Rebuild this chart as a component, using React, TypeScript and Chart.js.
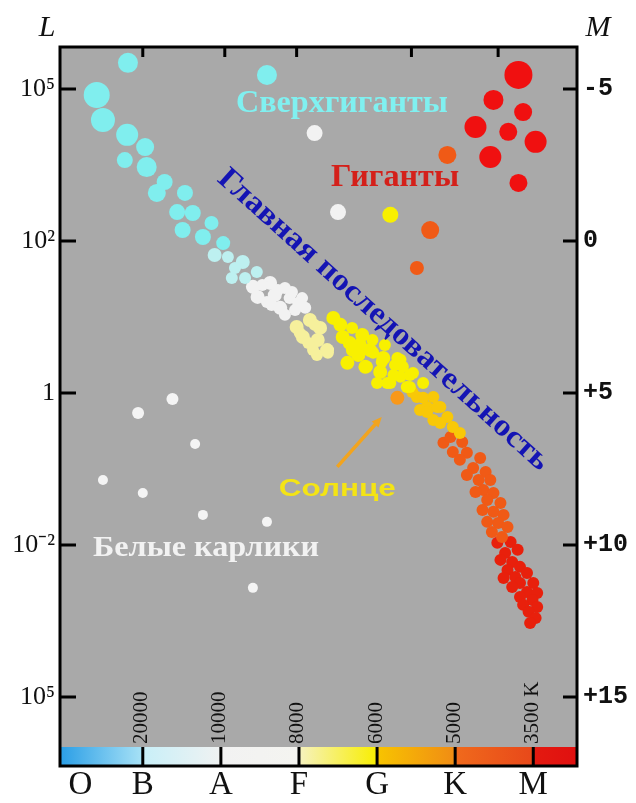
import React, { useEffect, useRef } from "react";
import { Chart, registerables } from "chart.js";

Chart.register(...registerables);

// x: spectral sub-class index (B0 = 10, A0 = 20, F0 = 30, G0 = 40, K0 = 50, M0 = 60)
// y: absolute magnitude M (left axis shows luminosity L)
const SPECTRAL_TICKS = [2, 10, 20, 30, 40, 50, 60];
const SPECTRAL_LABELS = ["O", "B", "A", "F", "G", "K", "M"];
const TEMP_TICKS = [10, 20, 30, 40, 50, 60];
const TEMP_LABELS = ["20000", "10000", "8000", "6000", "5000", "3500 K"];
const TOP_TICKS = [10, 20.5, 29.7, 44.4, 55.5];
const MAG_TICKS = [-5, 0, 5, 10, 15];
const LUM_LABELS = ["10⁵", "10²", "1", "10⁻²", "10⁵"];
const MAG_LABELS = ["-5", "0", "+5", "+10", "+15"];
const X_MIN = -0.6;
const X_MAX = 65.6;
const M_MIN = -6.38;
const M_MAX = 17.27;

// stars: [spectral index, absolute magnitude, relative size]
const BLUE_STARS = [
  [8.1, -5.86, 10], [25.9, -5.46, 10], [4.1, -4.8, 13], [4.9, -3.98, 12],
  [8.0, -3.49, 11], [10.3, -3.09, 9], [7.7, -2.66, 8], [10.5, -2.43, 10],
  [12.8, -1.94, 8], [11.8, -1.58, 9], [15.4, -1.58, 8], [14.4, -0.95, 8],
  [16.4, -0.92, 8], [18.8, -0.59, 7], [15.1, -0.36, 8], [17.7, -0.13, 8],
  [20.3, 0.07, 7],
];
const PALE_BLUE_STARS = [
  [19.2, 0.46, 7], [20.9, 0.53, 6], [22.8, 0.69, 7], [21.8, 0.89, 6],
  [24.6, 1.02, 6], [21.4, 1.22, 6], [23.1, 1.22, 6],
];
const WHITE_STARS = [
  [24.1, 1.51, 7], [26.3, 1.38, 7], [28.2, 1.55, 6], [24.7, 1.84, 7],
  [26.9, 1.78, 7], [28.8, 1.88, 6], [30.4, 1.88, 6], [27.6, 2.2, 7],
  [29.5, 2.27, 6], [30.8, 2.2, 6], [25.9, 2.01, 6], [28.2, 2.43, 6],
  [25.3, 1.45, 6], [27.3, 1.61, 6], [29.1, 1.68, 6], [26.5, 2.11, 6],
  [29.9, 2.04, 6],
  [32.0, -3.55, 8], [35.0, -0.95, 8],
];
const PALE_YELLOW_STARS = [
  [29.7, 2.83, 7], [31.4, 2.6, 7], [32.7, 2.86, 7], [30.5, 3.16, 7],
  [32.4, 3.26, 7], [33.6, 3.59, 7], [31.8, 3.59, 6], [31.2, 3.36, 6],
  [32.0, 2.76, 6], [33.7, 3.68, 6], [32.3, 3.75, 6], [30.1, 3.03, 6],
];
const YELLOW_STARS = [
  [34.4, 2.53, 7], [35.6, 3.16, 7], [38.1, 3.09, 7], [36.9, 3.59, 7],
  [39.1, 3.59, 7], [40.8, 3.85, 7], [43.0, 3.91, 6], [36.2, 4.01, 7],
  [38.5, 4.14, 7], [40.4, 4.31, 7], [42.1, 4.41, 6], [44.2, 4.41, 6],
  [40.0, 4.67, 6], [41.7, 4.67, 6], [43.8, 4.8, 6], [45.9, 4.67, 6],
  [37.8, 3.42, 7], [42.3, 4.08, 6], [35.3, 2.76, 7],
  [36.5, 3.36, 7], [39.5, 3.68, 6], [40.6, 3.98, 6], [42.6, 3.85, 6],
  [43.3, 4.14, 6], [38.7, 4.14, 6], [43.0, 4.47, 6], [44.6, 4.34, 6],
  [41.3, 4.67, 6], [44.2, 4.8, 6], [37.6, 3.75, 7], [39.4, 3.26, 6],
  [36.8, 2.86, 6], [41.0, 3.42, 6],
  [41.7, -0.86, 8],
];
const GOLD_STARS = [
  [45.1, 5.13, 6], [47.2, 5.13, 6], [46.4, 5.46, 6], [48.1, 5.46, 6],
  [49.0, 5.79, 6], [47.2, 5.89, 6], [49.7, 6.12, 6], [45.5, 5.56, 6],
  [47.7, 5.46, 6], [46.4, 5.63, 6], [48.1, 5.99, 6], [50.6, 6.32, 6],
  [45.9, 5.16, 6], [44.5, 4.97, 6],
];
const SUN = [[42.6, 5.16, 7]];
const ORANGE_STARS = [
  [48.5, 6.64, 6], [49.4, 6.45, 6], [50.9, 6.61, 6], [49.7, 6.94, 6],
  [51.5, 6.97, 6], [50.6, 7.2, 6], [53.2, 7.14, 6], [52.3, 7.47, 6],
  [53.9, 7.6, 6], [51.5, 7.7, 6], [53.0, 7.86, 6], [54.5, 7.86, 6],
  [53.6, 8.19, 6], [54.9, 8.29, 6], [52.6, 8.26, 6], [54.1, 8.52, 6],
  [55.8, 8.62, 6], [53.5, 8.85, 6], [54.9, 8.91, 6], [56.2, 9.01, 6],
  [54.1, 9.24, 6], [55.5, 9.28, 6], [56.7, 9.41, 6], [54.7, 9.57, 6],
  [56.0, 9.74, 6], [50.0, 6.28, 6],
  [49.0, -2.83, 9], [46.8, -0.36, 9], [45.1, 0.89, 7],
];
const RED_STARS = [
  [57.1, 9.9, 6], [55.4, 9.93, 6], [58.0, 10.16, 6], [56.4, 10.26, 6],
  [55.8, 10.49, 6], [57.3, 10.56, 6], [58.3, 10.72, 6], [56.7, 10.82, 6],
  [59.2, 10.92, 6], [57.7, 11.05, 6], [56.2, 11.09, 6], [58.3, 11.25, 6],
  [60.0, 11.25, 6], [57.3, 11.38, 6], [59.2, 11.55, 6], [60.5, 11.58, 6],
  [58.3, 11.71, 6], [59.9, 11.81, 6], [58.7, 11.97, 6], [60.5, 12.04, 6],
  [59.4, 12.2, 6], [60.3, 12.4, 6], [59.6, 12.57, 6],
];
const RED_GIANTS = [
  [58.1, -5.46, 14], [54.9, -4.64, 10], [58.7, -4.24, 9], [52.6, -3.75, 11],
  [56.8, -3.59, 9], [60.3, -3.26, 11], [54.5, -2.76, 11], [58.1, -1.91, 9],
];
const WHITE_DWARFS = [
  [13.8, 5.2, 6], [9.4, 5.66, 6], [16.7, 6.68, 5], [4.9, 7.86, 5],
  [10.0, 8.29, 5], [17.7, 9.01, 5], [25.9, 9.24, 5], [24.1, 11.41, 5],
];

const GROUPS = [
  { data: BLUE_STARS, color: "#80eeee" },
  { data: PALE_BLUE_STARS, color: "#bdf0f0" },
  { data: WHITE_STARS, color: "#f2f2f2" },
  { data: WHITE_DWARFS, color: "#f4f4f4" },
  { data: PALE_YELLOW_STARS, color: "#f6f09c" },
  { data: YELLOW_STARS, color: "#f8f000" },
  { data: GOLD_STARS, color: "#f8c808" },
  { data: SUN, color: "#f8981a" },
  { data: ORANGE_STARS, color: "#f05a16" },
  { data: RED_STARS, color: "#e8200c" },
  { data: RED_GIANTS, color: "#f01010" },
];

// text annotations anchored in data coordinates
const LABEL_TEXTS = ["Сверхгиганты", "Гиганты", "Главная последовательность", "Солнце", "Белые карлики"];
const LABEL_X = [35.5, 42.3, 40.8, 34.9, 18.1];
const LABEL_M = [-4.51, -2.07, 2.6, 8.19, 10.13];
const LABEL_STYLE = [
  { font: "bold 31px 'Liberation Serif'", color: "#80f0f0", width: 212, angle: 0 },
  { font: "bold 31px 'Liberation Serif'", color: "#d4201a", width: 128, angle: 0 },
  { font: "bold 31px 'Liberation Serif'", color: "#1414b4", width: 435, angle: 42 },
  { font: "bold 23px 'Liberation Sans'", color: "#f4e414", width: 117, angle: 0 },
  { font: "bold 29px 'Liberation Serif'", color: "#f2f2f2", width: 226, angle: 0 },
];
const ARROW_FROM = [34.9, 7.43];
const ARROW_TO = [40.6, 5.79];

const BAR_EDGES = [X_MIN, 10, 20, 30, 40, 50, 60, X_MAX];
const BAR_COLORS = [
  ["#2a9ee6", "#a8e2f6"],
  ["#c8eff8", "#f0f2f2"],
  ["#f2f2f2", "#f4f4f0"],
  ["#f6f2c0", "#f8ee00"],
  ["#f8c400", "#f08c14"],
  ["#f06a1c", "#e8481a"],
  ["#e41a10", "#e01010"],
];

const PLOT_BG = "#a9a9a9";

const decorPlugin = {
  id: "hrDecor",
  beforeDatasetsDraw(chart: any) {
    const { ctx, chartArea: a } = chart;
    ctx.save();
    ctx.fillStyle = PLOT_BG;
    ctx.fillRect(a.left, a.top, a.right - a.left, a.bottom - a.top);
    ctx.restore();
  },
  afterDatasetsDraw(chart: any) {
    const { ctx, chartArea: a, scales } = chart;
    const xs = scales.x;
    const ys = scales.y;

    // text labels
    LABEL_TEXTS.forEach((t, i) => {
      const st = LABEL_STYLE[i];
      ctx.save();
      ctx.translate(xs.getPixelForValue(LABEL_X[i]), ys.getPixelForValue(LABEL_M[i]));
      ctx.rotate((st.angle * Math.PI) / 180);
      ctx.font = st.font;
      const w = ctx.measureText(t).width;
      ctx.scale(st.width / w, 1);
      ctx.fillStyle = st.color;
      ctx.textAlign = "center";
      ctx.textBaseline = "middle";
      ctx.fillText(t, 0, 0);
      ctx.restore();
    });

    // arrow to the Sun
    const ax0 = xs.getPixelForValue(ARROW_FROM[0]);
    const ay0 = ys.getPixelForValue(ARROW_FROM[1]);
    const ax1 = xs.getPixelForValue(ARROW_TO[0]);
    const ay1 = ys.getPixelForValue(ARROW_TO[1]);
    const ang = Math.atan2(ay1 - ay0, ax1 - ax0);
    ctx.save();
    ctx.strokeStyle = "#f2a41e";
    ctx.fillStyle = "#f2a41e";
    ctx.lineWidth = 3.5;
    ctx.beginPath();
    ctx.moveTo(ax0, ay0);
    ctx.lineTo(ax1 - 6 * Math.cos(ang), ay1 - 6 * Math.sin(ang));
    ctx.stroke();
    ctx.beginPath();
    ctx.moveTo(ax1, ay1);
    ctx.lineTo(ax1 - 10 * Math.cos(ang) + 4.5 * Math.sin(ang), ay1 - 10 * Math.sin(ang) - 4.5 * Math.cos(ang));
    ctx.lineTo(ax1 - 10 * Math.cos(ang) - 4.5 * Math.sin(ang), ay1 - 10 * Math.sin(ang) + 4.5 * Math.cos(ang));
    ctx.closePath();
    ctx.fill();
    ctx.restore();

    // colour bar
    const barTop = a.bottom - 19;
    ctx.save();
    for (let i = 0; i < BAR_COLORS.length; i++) {
      const x0 = xs.getPixelForValue(BAR_EDGES[i]);
      const x1 = xs.getPixelForValue(BAR_EDGES[i + 1]);
      const g = ctx.createLinearGradient(x0, 0, x1, 0);
      g.addColorStop(0, BAR_COLORS[i][0]);
      g.addColorStop(1, BAR_COLORS[i][1]);
      ctx.fillStyle = g;
      ctx.fillRect(x0, barTop, x1 - x0, a.bottom - barTop);
    }
    ctx.strokeStyle = "#000";
    ctx.lineWidth = 3;
    TEMP_TICKS.forEach((v) => {
      const x = xs.getPixelForValue(v);
      ctx.beginPath();
      ctx.moveTo(x, barTop);
      ctx.lineTo(x, a.bottom);
      ctx.stroke();
    });
    // temperature labels
    ctx.fillStyle = "#111";
    ctx.font = "21px 'Liberation Serif'";
    ctx.textAlign = "left";
    ctx.textBaseline = "middle";
    TEMP_TICKS.forEach((v, i) => {
      ctx.save();
      ctx.translate(xs.getPixelForValue(v) - 1, barTop - 3);
      ctx.rotate(-Math.PI / 2);
      ctx.fillText(TEMP_LABELS[i], 0, 0);
      ctx.restore();
    });

    // frame
    ctx.strokeStyle = "#000";
    ctx.lineWidth = 3;
    ctx.strokeRect(a.left, a.top, a.right - a.left, a.bottom - a.top);
    // inward tick marks
    MAG_TICKS.forEach((v) => {
      const y = ys.getPixelForValue(v);
      ctx.beginPath();
      ctx.moveTo(a.left, y);
      ctx.lineTo(a.left + 16, y);
      ctx.moveTo(a.right - 14, y);
      ctx.lineTo(a.right, y);
      ctx.stroke();
    });
    TOP_TICKS.forEach((v) => {
      const x = xs.getPixelForValue(v);
      ctx.beginPath();
      ctx.moveTo(x, a.top);
      ctx.lineTo(x, a.top + 10);
      ctx.stroke();
    });

    // axis titles
    ctx.fillStyle = "#111";
    ctx.font = "italic 30px 'Liberation Serif'";
    ctx.textAlign = "center";
    ctx.textBaseline = "middle";
    ctx.fillText("L", a.left - 13, a.top - 19);
    ctx.fillText("M", a.right + 21, a.top - 19);
    ctx.restore();
  },
};

export default function App() {
  const ref = useRef<HTMLCanvasElement>(null);
  useEffect(() => {
    if (!ref.current) return;
    const chart = new Chart(ref.current, {
      type: "bubble",
      data: {
        datasets: GROUPS.map((g) => ({
          data: g.data.map((p) => ({ x: p[0], y: p[1], r: p[2] })),
          backgroundColor: g.color,
          borderWidth: 0,
          hoverRadius: 0,
        })),
      },
      options: {
        animation: false,
        responsive: false,
        devicePixelRatio: 1,
        events: [],
        layout: { padding: { top: 39, left: 0, right: 0, bottom: 0 } },
        plugins: { legend: { display: false }, tooltip: { enabled: false } },
        scales: {
          x: {
            type: "linear",
            position: "bottom",
            min: X_MIN,
            max: X_MAX,
            grid: { display: false, drawTicks: false },
            border: { display: false },
            afterBuildTicks: (s: any) => {
              s.ticks = SPECTRAL_TICKS.map((v) => ({ value: v }));
            },
            afterFit: (s: any) => {
              s.height = 29;
            },
            ticks: {
              autoSkip: false,
              maxRotation: 0,
              padding: 0,
              color: "#111",
              font: { family: "'Liberation Serif'", size: 33 },
              callback: (_v: any, i: number) => SPECTRAL_LABELS[i],
            },
          },
          y: {
            type: "linear",
            position: "left",
            reverse: true,
            min: M_MIN,
            max: M_MAX,
            grid: { display: false, drawTicks: false },
            border: { display: false },
            afterBuildTicks: (s: any) => {
              s.ticks = MAG_TICKS.map((v) => ({ value: v }));
            },
            afterFit: (s: any) => {
              s.width = 52;
            },
            ticks: {
              padding: 5,
              color: "#111",
              font: { family: "'Liberation Serif'", size: 26 },
              callback: (_v: any, i: number) => LUM_LABELS[i],
            },
          },
          y2: {
            type: "linear",
            position: "right",
            reverse: true,
            min: M_MIN,
            max: M_MAX,
            grid: { display: false, drawTicks: false },
            border: { display: false },
            afterBuildTicks: (s: any) => {
              s.ticks = MAG_TICKS.map((v) => ({ value: v }));
            },
            afterFit: (s: any) => {
              s.width = 51;
            },
            ticks: {
              padding: 6,
              color: "#111",
              font: { family: "'Liberation Mono'", size: 25, weight: "bold" },
              callback: (_v: any, i: number) => MAG_LABELS[i],
            },
          },
        },
      },
      plugins: [decorPlugin],
    });
    return () => chart.destroy();
  }, []);
  return <canvas ref={ref} width={620} height={787} style={{ display: "block" }} />;
}
